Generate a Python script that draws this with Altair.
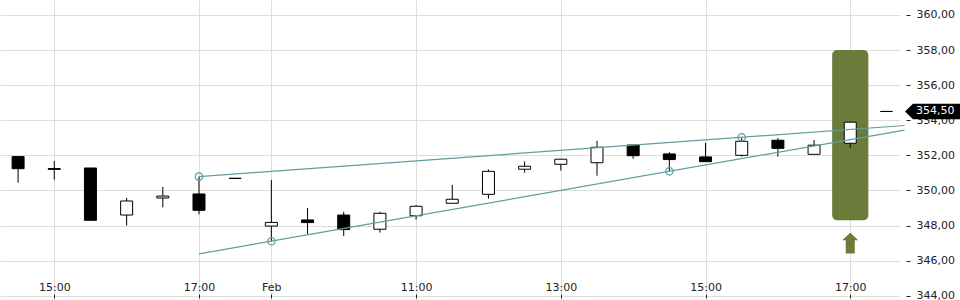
import altair as alt
import pandas as pd

# ---- data ----
times = ["14:30", "15:00", "15:30", "16:00", "16:30", "17:00", "17:30",
         "09:00", "09:30", "10:00", "10:30", "11:00", "11:30", "12:00", "12:30",
         "13:00", "13:30", "14:00", "14:30", "15:00", "15:30", "16:00", "16:30",
         "17:00", "17:30"]
opens = [351.93, 351.25, 351.28, 348.60, 349.57, 349.80, 350.69, 347.97, 348.32,
         348.60, 347.79, 348.56, 349.27, 349.78, 351.21, 351.49, 351.58, 352.59,
         352.08, 351.91, 352.00, 352.86, 352.06, 352.69, 354.50]
closes = [351.24, 351.20, 348.30, 349.40, 349.68, 348.87, 350.69, 348.18, 348.17,
          347.77, 348.70, 349.10, 349.50, 351.09, 351.38, 351.78, 352.46, 351.98,
          351.76, 351.64, 352.80, 352.40, 352.58, 353.89, 354.50]
highs = [351.93, 351.68, 351.28, 349.58, 350.20, 350.79, 350.69, 350.60, 349.00,
         348.79, 348.78, 349.17, 350.31, 351.20, 351.66, 351.78, 352.82, 352.59,
         352.18, 352.71, 353.00, 352.99, 352.88, 353.89, 354.50]
lows = [350.44, 350.62, 348.30, 348.00, 349.04, 348.64, 350.69, 347.12, 347.52,
        347.41, 347.60, 348.34, 349.27, 349.53, 351.01, 351.13, 350.84, 351.81,
        351.09, 351.64, 351.93, 351.93, 352.06, 352.44, 354.50]

tick_index = [1, 5, 7, 11, 15, 19, 23]
tick_labels = ["15:00", "17:00", "Feb", "11:00", "13:00", "15:00", "17:00"]
y_ticks = [344, 346, 348, 350, 352, 354, 356, 358, 360]

# trend lines (start / end points) and their anchor circles
line_names = ["upper", "upper", "lower", "lower"]
line_x = [5, 24.5, 5, 24.5]
line_y = [350.79, 353.70, 346.39, 353.44]
anchor_x = [5, 20, 7, 18]
anchor_y = [350.79, 353.03, 347.11, 351.09]

# highlighted signal candle
hl_start = [22.5]
hl_end = [23.5]
hl_low = [348.3]
hl_high = [358.0]
signal_x = [23]
signal_y = [347.0]

last_price = [354.50]

# ---- tables ----
df = pd.DataFrame({"i": list(range(len(times))), "time": times, "open": opens,
                   "close": closes, "high": highs, "low": lows})
tl = pd.DataFrame({"line": line_names, "x": line_x, "y": line_y})
an = pd.DataFrame({"x": anchor_x, "y": anchor_y})
hl = pd.DataFrame({"start": hl_start, "end": hl_end, "low": hl_low, "high": hl_high})
sg = pd.DataFrame({"x": signal_x, "y": signal_y})
lp = pd.DataFrame({"price": last_price,
                   "label": [f"{p:.2f}".replace(".", ",") for p in last_price]})

FONT = "DejaVu Sans"
GREEN = "#6b7c3a"
TEAL = "#5f9ea0"

xscale = alt.Scale(domain=[-0.5, 24.375], nice=False, zero=False, padding=0)
yscale = alt.Scale(domain=[343.76, 360.85], nice=False, zero=False, padding=0)

label_expr = "".join(f"datum.value == {i} ? '{l}' : " for i, l in zip(tick_index, tick_labels)) + "''"

xaxis = alt.Axis(values=tick_index, labelExpr=label_expr, title=None, grid=True,
                 gridColor="#dddddd", gridWidth=1, domain=False, offset=-6,
                 tickSize=4, tickColor="#222222", labelPadding=-17,
                 labelFont=FONT, labelFontSize=11, labelColor="#222222",
                 labelFlush=False, labelOverlap=False)
yaxis = alt.Axis(values=y_ticks, orient="right", title=None, grid=True,
                 gridColor="#dddddd", gridWidth=1, domain=False, offset=6,
                 tickSize=4, tickColor="#222222", labelPadding=6,
                 labelFont=FONT, labelFontSize=11, labelColor="#222222",
                 labelExpr="replace(format(datum.value, '.2f'), '.', ',')")


def X(field):
    return alt.X(field, scale=xscale, axis=xaxis)


def Y(field):
    return alt.Y(field, scale=yscale, axis=yaxis)


highlight = alt.Chart(hl).mark_rect(cornerRadius=5, color=GREEN).encode(
    x=X("start:Q"), x2="end:Q", y=Y("low:Q"), y2="high:Q",
)

wicks = alt.Chart(df).mark_rule(color="black", strokeWidth=1).encode(
    x=X("i:Q"), y=Y("low:Q"), y2="high:Q",
)

bodies = alt.Chart(df).mark_bar(size=12, stroke="black", strokeWidth=1).encode(
    x=X("i:Q"), y=Y("open:Q"), y2="close:Q",
    fill=alt.condition("datum.close >= datum.open", alt.value("white"), alt.value("black")),
)

lines = alt.Chart(tl).mark_line(color=TEAL, strokeWidth=1.2).encode(
    x=X("x:Q"), y=Y("y:Q"), detail="line:N",
)

anchors = alt.Chart(an).mark_point(shape="circle", size=55, filled=False,
                                   color=TEAL, strokeWidth=1.2, opacity=1).encode(
    x=X("x:Q"), y=Y("y:Q"),
)

arrow_path = "M0,-1 L0.78,-0.29 L0.44,-0.29 L0.44,1 L-0.44,1 L-0.44,-0.29 L-0.78,-0.29 Z"
arrow = alt.Chart(sg).mark_point(shape=arrow_path, size=424, filled=True,
                                 color=GREEN, opacity=1, strokeWidth=0).encode(
    x=X("x:Q"), y=Y("y:Q"),
)

tag_path = "M-1,0 L-0.71,-0.28 L1,-0.28 L1,0.28 L-0.71,0.28 Z"
tag = alt.Chart(lp).mark_point(shape=tag_path, size=3025, filled=True,
                               color="black", opacity=1, strokeWidth=0).encode(
    x=alt.value(932.5), y=Y("price:Q"),
)
tag_text = alt.Chart(lp).mark_text(color="white", font=FONT, fontSize=11,
                                   align="left", baseline="middle").encode(
    x=alt.value(916), y=Y("price:Q"), text="label:N",
)

chart = alt.layer(highlight, wicks, bodies, lines, anchors, arrow, tag, tag_text).properties(
    width=900, height=300,
    autosize=alt.AutoSizeParams(type="none"),
    padding={"left": 0, "top": 0, "right": 60, "bottom": 0},
    background="white",
).configure_view(stroke=None)

chart.save("out.html", embed_options={"renderer": "svg", "actions": False})
